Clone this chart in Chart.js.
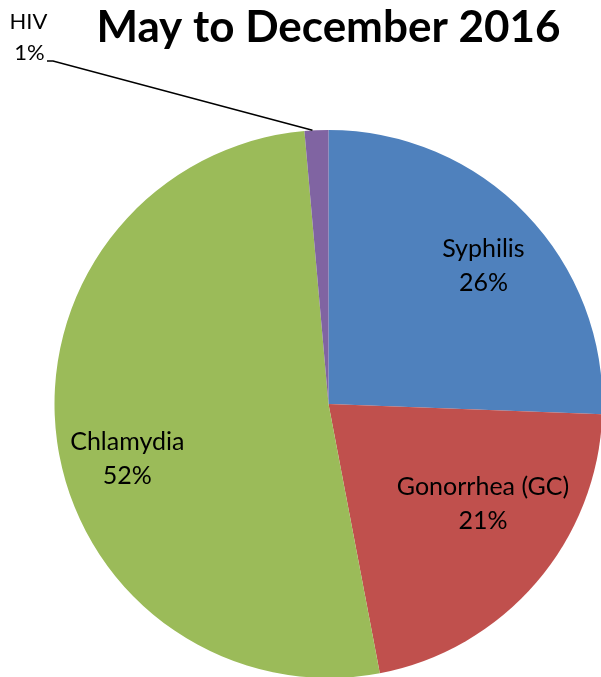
<!DOCTYPE html>
<html>
<head>
<meta charset="utf-8">
<script src="https://cdn.jsdelivr.net/npm/chart.js@4"></script>
<style>
html,body{margin:0;padding:0;background:#fff;overflow:hidden;width:601px;height:677px;}
#wrap{position:absolute;left:0;top:0;width:610px;height:680px;}
</style>
</head>
<body>
<div id="wrap"><canvas id="c" width="610" height="680"></canvas></div>
<script>
const titleText = "May to December 2016";
const categories = ["Syphilis", "Gonorrhea (GC)", "Chlamydia", "HIV"];
const values = [25.6, 21.4, 51.6, 1.4];
const percentLabels = ["26%", "21%", "52%", "1%"];
const colors = ["#4F81BD", "#C0504D", "#9BBB59", "#8064A2"];

// label placement: fraction of radius along slice mid-angle, plus small nudges
const labelRadius = [0.76, 0.67, 0.76, 0];
const labelAngleShift = [2, -8, -7, 0]; // degrees

const FONT = "Lato, 'Open Sans', sans-serif";

const labelPlugin = {
  id: 'labels',
  afterDatasetsDraw(chart) {
    const ctx = chart.ctx;
    const meta = chart.getDatasetMeta(0);
    ctx.save();
    ctx.fillStyle = '#000';
    ctx.textAlign = 'center';
    ctx.textBaseline = 'middle';
    // title
    ctx.font = "bold 44px " + FONT;
    ctx.fillText(titleText, 328.5, 28);
    ctx.font = "25px " + FONT;
    meta.data.forEach((arc, i) => {
      const p = arc.getProps(['x','y','startAngle','endAngle','outerRadius'], true);
      const mid = (p.startAngle + p.endAngle) / 2 + labelAngleShift[i] * Math.PI / 180;
      if (labelRadius[i] > 0) {
        const r = p.outerRadius * labelRadius[i];
        const lx = p.x + Math.cos(mid) * r;
        const ly = p.y + Math.sin(mid) * r;
        ctx.fillText(categories[i], lx, ly - 16);
        ctx.fillText(percentLabels[i], lx, ly + 18);
      } else {
        // outside label with leader line
        const ex = p.x + Math.cos(mid) * p.outerRadius;
        const ey = p.y + Math.sin(mid) * p.outerRadius;
        ctx.font = "22px " + FONT;
        ctx.fillText(categories[i], 28.5, 22);
        ctx.fillText(percentLabels[i], 29.5, 53);
        ctx.strokeStyle = '#000';
        ctx.lineWidth = 1.5;
        ctx.beginPath();
        ctx.moveTo(47, 61);
        ctx.lineTo(53, 61);
        ctx.lineTo(ex - 4, ey);
        ctx.stroke();
      }
    });
    ctx.restore();
  }
};

new Chart(document.getElementById('c'), {
  type: 'pie',
  data: {
    labels: categories,
    datasets: [{
      data: values,
      backgroundColor: colors,
      borderWidth: 0
    }]
  },
  options: {
    responsive: false,
    animation: false,
    layout: { padding: { left: 54.5, right: 7.5, top: 130, bottom: 2 } },
    plugins: { legend: { display: false }, tooltip: { enabled: false }, title: { display: false } }
  },
  plugins: [labelPlugin]
});
</script>
</body>
</html>
